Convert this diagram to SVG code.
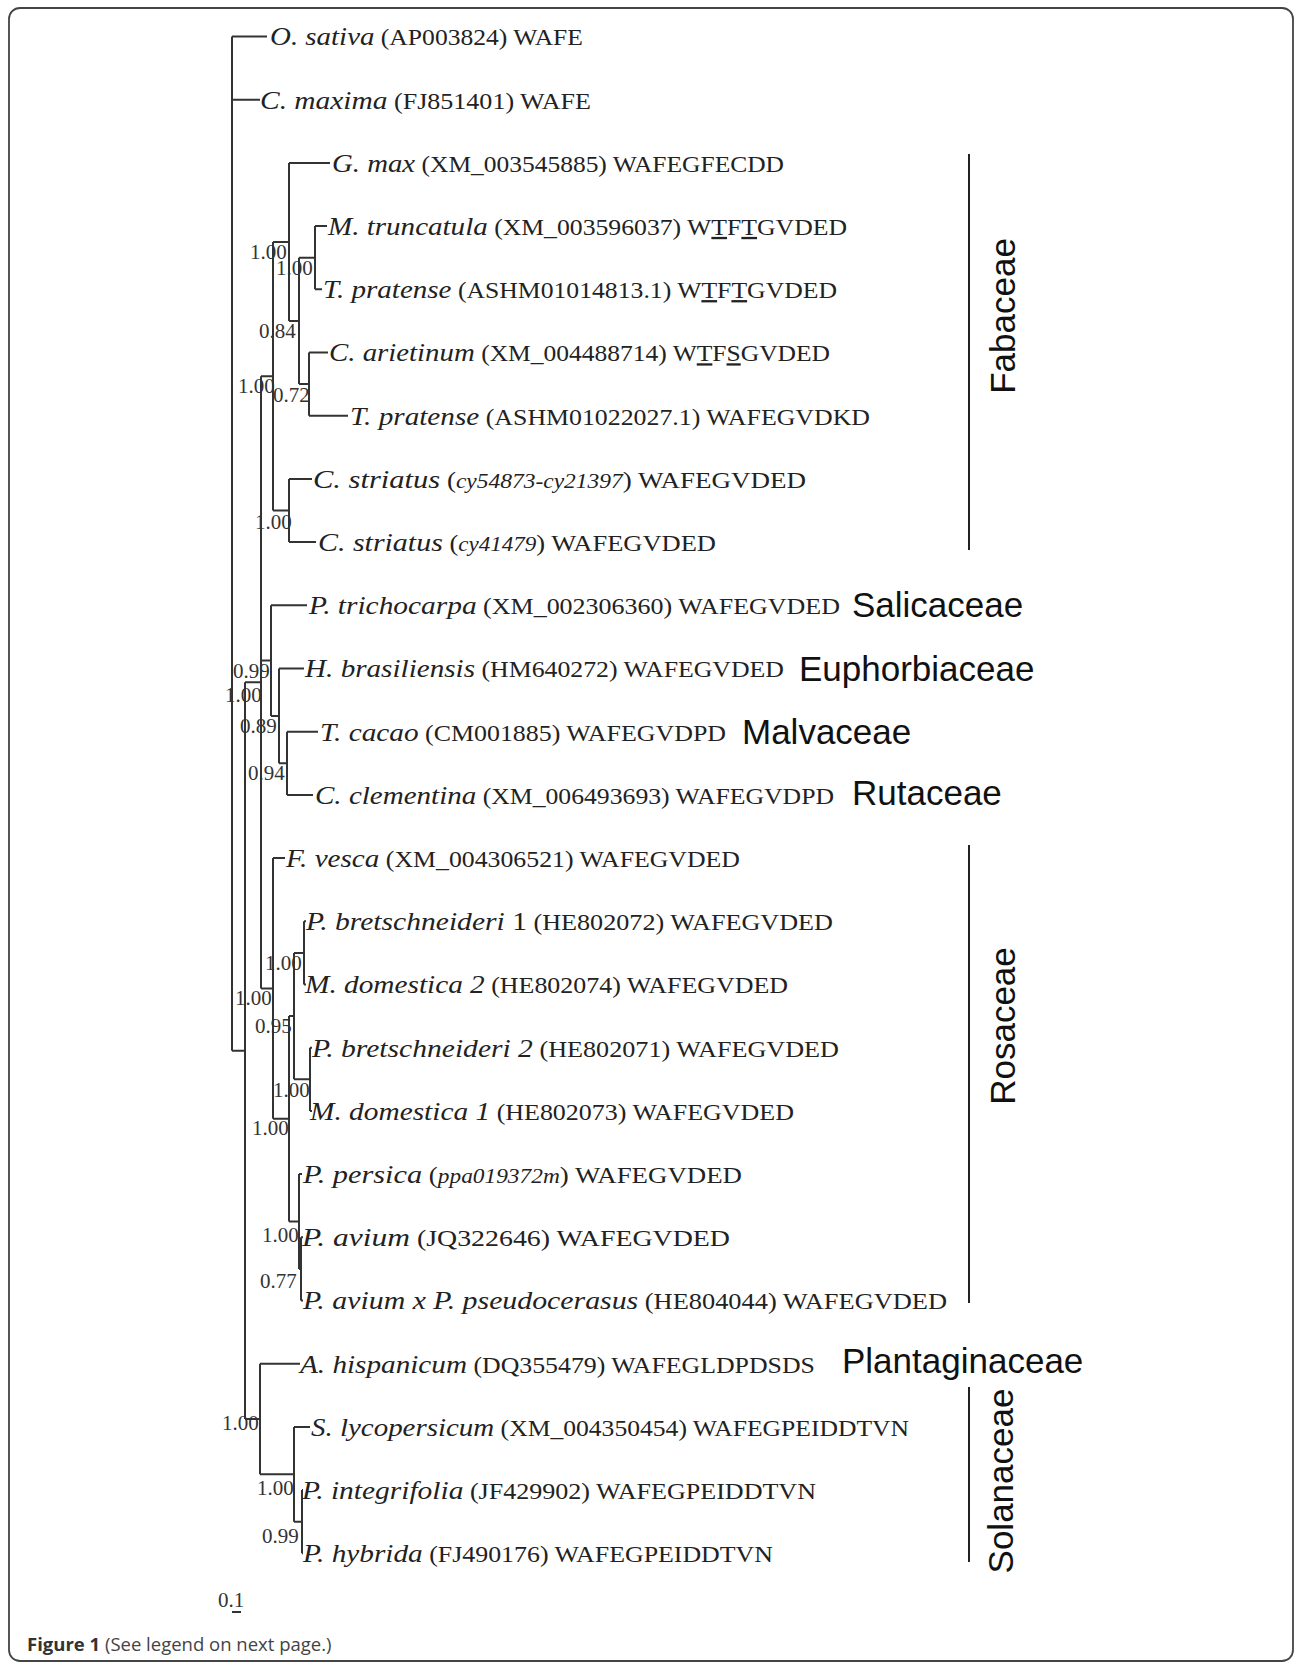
<svg xmlns="http://www.w3.org/2000/svg" width="1295" height="1663" viewBox="0 0 1295 1663">
<style>
.row{font-family:"Liberation Serif","Times New Roman",serif;font-size:23px;fill:#222}
.sp{font-style:italic;font-size:26px}
.ai{font-style:italic;font-size:20px}
.u{text-decoration:underline}
.bs{font-family:"Liberation Serif","Times New Roman",serif;font-size:21px;fill:#333}
.fam{font-family:"Liberation Sans",Arial,sans-serif;font-size:35px;fill:#111}
.br{fill:none;stroke:#333;stroke-width:2}
.bar{stroke:#222;stroke-width:2}
</style>
<rect x="9" y="8" width="1284" height="1653" rx="11" fill="#fff" stroke="#444" stroke-width="1.8"/>

<g id="branches" class="br">
<path d="M232,36.5V1050.7M232,36.5H267M232,99.7H260M232,1050.7H245"/>
<path d="M245,682.3V1419M245,682.3H261M245,1419H260"/>
<path d="M261,376.2V988.5M261,376.2H273M261,660.6H271M261,988.5H273"/>
<path d="M273,241.9V510.5M273,241.9H289M273,510.5H289"/>
<path d="M289,162.9V320.9M289,162.9H330M289,320.9H299"/>
<path d="M299,257.7V384.1M299,257.7H315M299,384.1H309"/>
<path d="M315,226.1V289.3M315,226.1H327M315,289.3H322"/>
<path d="M309,352.5V415.7M309,352.5H328M309,415.7H348"/>
<path d="M289,478.9V542.1M289,478.9H312M289,542.1H316"/>
<path d="M271,605.3V715.9M271,605.3H307M271,715.9H279"/>
<path d="M279,668.5V763.3M279,668.5H304M279,763.3H287"/>
<path d="M287,731.7V794.9M287,731.7H318M287,794.9H313"/>
<path d="M273,858.1V1118.8M273,858.1H285M273,1118.8H289"/>
<path d="M289,1016.1V1221.5M289,1016.1H294M289,1221.5H299"/>
<path d="M294,952.9V1079.3M294,952.9H304M294,1079.3H310"/>
<path d="M304,921.3V984.5M304,921.3H306M304,984.5H306"/>
<path d="M310,1047.7V1110.9M310,1047.7H312M310,1110.9H312"/>
<path d="M299,1174.1V1268.9M299,1174.1H302M299,1268.9H301"/>
<path d="M301,1237.3V1300.5M301,1237.3H303M301,1300.5H303"/>
<path d="M260,1363.7V1474.3M260,1363.7H300M260,1474.3H294"/>
<path d="M294,1426.9V1521.7M294,1426.9H310M294,1521.7H302"/>
<path d="M302,1490.1V1553.3M302,1490.1H303M302,1553.3H303"/>
</g>

<g id="support-values" class="bs">
<text x="250" y="259">1.00</text>
<text x="276" y="275">1.00</text>
<text x="259" y="338">0.84</text>
<text x="238" y="393">1.00</text>
<text x="273" y="402">0.72</text>
<text x="255" y="529">1.00</text>
<text x="233" y="678">0.99</text>
<text x="225" y="702">1.00</text>
<text x="240" y="733">0.89</text>
<text x="248" y="780">0.94</text>
<text x="265" y="970">1.00</text>
<text x="235" y="1005">1.00</text>
<text x="255" y="1033">0.95</text>
<text x="273" y="1097">1.00</text>
<text x="252" y="1135">1.00</text>
<text x="262" y="1242">1.00</text>
<text x="260" y="1288">0.77</text>
<text x="222" y="1430">1.00</text>
<text x="257" y="1495">1.00</text>
<text x="262" y="1543">0.99</text>
</g>

<g id="leaf-o-sativa"><text class="row" x="270" y="45.3" textLength="313" lengthAdjust="spacingAndGlyphs"><tspan class="sp">O. sativa</tspan> (AP003824) WAFE</text></g>
<g id="leaf-c-maxima"><text class="row" x="260" y="108.5" textLength="331" lengthAdjust="spacingAndGlyphs"><tspan class="sp">C. maxima</tspan> (FJ851401) WAFE</text></g>
<g id="leaf-g-max"><text class="row" x="332" y="171.7" textLength="452" lengthAdjust="spacingAndGlyphs"><tspan class="sp">G. max</tspan> (XM_003545885) WAFEGFECDD</text></g>
<g id="leaf-m-truncatula"><text class="row" x="328" y="234.9" textLength="519" lengthAdjust="spacingAndGlyphs"><tspan class="sp">M. truncatula</tspan> (XM_003596037) W<tspan class="u">T</tspan>F<tspan class="u">T</tspan>GVDED</text></g>
<g id="leaf-t-pratense-1"><text class="row" x="323" y="298.1" textLength="514" lengthAdjust="spacingAndGlyphs"><tspan class="sp">T. pratense</tspan> (ASHM01014813.1) W<tspan class="u">T</tspan>F<tspan class="u">T</tspan>GVDED</text></g>
<g id="leaf-c-arietinum"><text class="row" x="329" y="361.3" textLength="501" lengthAdjust="spacingAndGlyphs"><tspan class="sp">C. arietinum</tspan> (XM_004488714) W<tspan class="u">T</tspan>F<tspan class="u">S</tspan>GVDED</text></g>
<g id="leaf-t-pratense-2"><text class="row" x="350" y="424.5" textLength="520" lengthAdjust="spacingAndGlyphs"><tspan class="sp">T. pratense</tspan> (ASHM01022027.1) WAFEGVDKD</text></g>
<g id="leaf-c-striatus-1"><text class="row" x="313" y="487.7" textLength="493" lengthAdjust="spacingAndGlyphs"><tspan class="sp">C. striatus</tspan> (<tspan class="ai">cy54873-cy21397</tspan>) WAFEGVDED</text></g>
<g id="leaf-c-striatus-2"><text class="row" x="318" y="550.9" textLength="398" lengthAdjust="spacingAndGlyphs"><tspan class="sp">C. striatus</tspan> (<tspan class="ai">cy41479</tspan>) WAFEGVDED</text></g>
<g id="leaf-p-trichocarpa"><text class="row" x="309" y="614.1" textLength="531" lengthAdjust="spacingAndGlyphs"><tspan class="sp">P. trichocarpa</tspan> (XM_002306360) WAFEGVDED</text></g>
<g id="leaf-h-brasiliensis"><text class="row" x="305" y="677.3" textLength="479" lengthAdjust="spacingAndGlyphs"><tspan class="sp">H. brasiliensis</tspan> (HM640272) WAFEGVDED</text></g>
<g id="leaf-t-cacao"><text class="row" x="320" y="740.5" textLength="406" lengthAdjust="spacingAndGlyphs"><tspan class="sp">T. cacao</tspan> (CM001885) WAFEGVDPD</text></g>
<g id="leaf-c-clementina"><text class="row" x="315" y="803.7" textLength="519" lengthAdjust="spacingAndGlyphs"><tspan class="sp">C. clementina</tspan> (XM_006493693) WAFEGVDPD</text></g>
<g id="leaf-f-vesca"><text class="row" x="286" y="866.9" textLength="454" lengthAdjust="spacingAndGlyphs"><tspan class="sp">F. vesca</tspan> (XM_004306521) WAFEGVDED</text></g>
<g id="leaf-p-bretschneideri-1"><text class="row" x="306" y="930.1" textLength="527" lengthAdjust="spacingAndGlyphs"><tspan class="sp">P. bretschneideri</tspan><tspan font-size="26"> 1</tspan> (HE802072) WAFEGVDED</text></g>
<g id="leaf-m-domestica-2"><text class="row" x="305" y="993.3" textLength="483" lengthAdjust="spacingAndGlyphs"><tspan class="sp">M. domestica 2</tspan> (HE802074) WAFEGVDED</text></g>
<g id="leaf-p-bretschneideri-2"><text class="row" x="312" y="1056.5" textLength="527" lengthAdjust="spacingAndGlyphs"><tspan class="sp">P. bretschneideri 2</tspan> (HE802071) WAFEGVDED</text></g>
<g id="leaf-m-domestica-1"><text class="row" x="310" y="1119.7" textLength="484" lengthAdjust="spacingAndGlyphs"><tspan class="sp">M. domestica 1</tspan> (HE802073) WAFEGVDED</text></g>
<g id="leaf-p-persica"><text class="row" x="303" y="1182.9" textLength="439" lengthAdjust="spacingAndGlyphs"><tspan class="sp">P. persica</tspan> (<tspan class="ai">ppa019372m</tspan>) WAFEGVDED</text></g>
<g id="leaf-p-avium"><text class="row" x="302" y="1246.1" textLength="428" lengthAdjust="spacingAndGlyphs"><tspan class="sp">P. avium</tspan> (JQ322646) WAFEGVDED</text></g>
<g id="leaf-p-avium-x"><text class="row" x="303" y="1309.3" textLength="644" lengthAdjust="spacingAndGlyphs"><tspan class="sp">P. avium x P. pseudocerasus</tspan> (HE804044) WAFEGVDED</text></g>
<g id="leaf-a-hispanicum"><text class="row" x="300" y="1372.5" textLength="515" lengthAdjust="spacingAndGlyphs"><tspan class="sp">A. hispanicum</tspan> (DQ355479) WAFEGLDPDSDS</text></g>
<g id="leaf-s-lycopersicum"><text class="row" x="311" y="1435.7" textLength="598" lengthAdjust="spacingAndGlyphs"><tspan class="sp">S. lycopersicum</tspan> (XM_004350454) WAFEGPEIDDTVN</text></g>
<g id="leaf-p-integrifolia"><text class="row" x="302" y="1498.9" textLength="514" lengthAdjust="spacingAndGlyphs"><tspan class="sp">P. integrifolia</tspan> (JF429902) WAFEGPEIDDTVN</text></g>
<g id="leaf-p-hybrida"><text class="row" x="303" y="1562.1" textLength="470" lengthAdjust="spacingAndGlyphs"><tspan class="sp">P. hybrida</tspan> (FJ490176) WAFEGPEIDDTVN</text></g>

<g id="family-fabaceae"><line class="bar" x1="969" y1="154" x2="969" y2="550"/><text class="fam" transform="translate(1015,316) rotate(-90)" text-anchor="middle">Fabaceae</text></g>
<g id="family-salicaceae"><text class="fam" x="852" y="617">Salicaceae</text></g>
<g id="family-euphorbiaceae"><text class="fam" x="799" y="681">Euphorbiaceae</text></g>
<g id="family-malvaceae"><text class="fam" x="742" y="744">Malvaceae</text></g>
<g id="family-rutaceae"><text class="fam" x="852" y="805">Rutaceae</text></g>
<g id="family-rosaceae"><line class="bar" x1="969" y1="845" x2="969" y2="1303"/><text class="fam" transform="translate(1015,1026) rotate(-90)" text-anchor="middle">Rosaceae</text></g>
<g id="family-plantaginaceae"><text class="fam" x="842" y="1373">Plantaginaceae</text></g>
<g id="family-solanaceae"><line class="bar" x1="969" y1="1387" x2="969" y2="1562"/><text class="fam" transform="translate(1013,1481) rotate(-90)" text-anchor="middle">Solanaceae</text></g>

<g id="scale-bar"><text class="bs" x="218" y="1607">0.1</text><line x1="232" y1="1612" x2="241" y2="1612" stroke="#333" stroke-width="2"/></g>

<g id="caption"><text x="27" y="1651" font-family="'Open Sans','Noto Sans',sans-serif" font-size="18.5" fill="#444"><tspan font-weight="bold" fill="#333">Figure 1</tspan> (See legend on next page.)</text></g>
</svg>
